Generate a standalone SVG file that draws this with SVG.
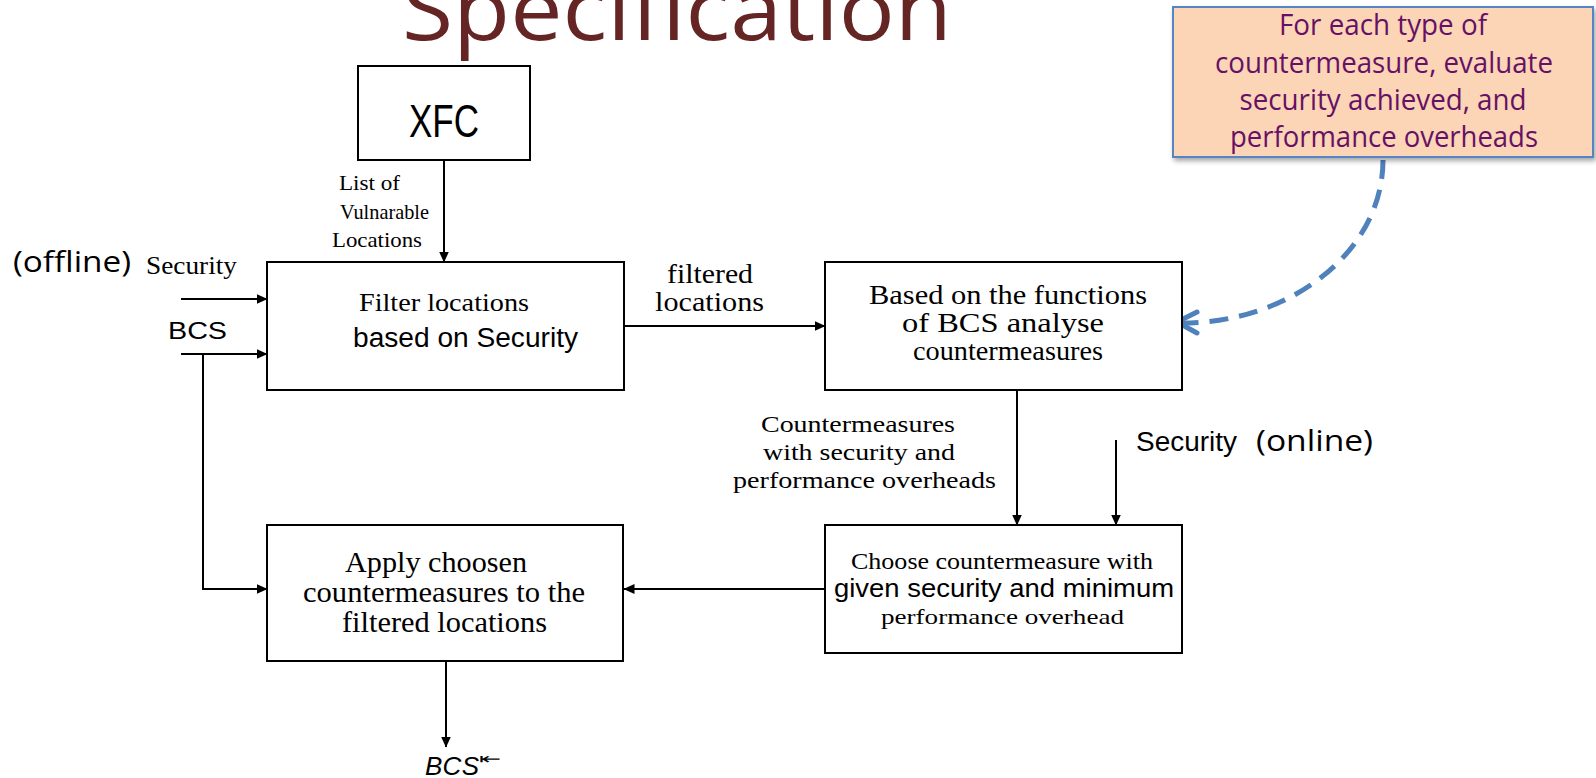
<svg xmlns="http://www.w3.org/2000/svg" width="1596" height="778" viewBox="0 0 1596 778">
  <style>
    .box { fill: #ffffff; stroke: #000000; stroke-width: 2; }
    .wire { fill: none; stroke: #000000; stroke-width: 2; }
    .dash { fill: none; stroke: #4F81BD; stroke-width: 5; }
    .serif { font-family: "Liberation Serif", "Times New Roman", serif; fill: #000000; }
    .narrow { font-family: "Liberation Sans Narrow", "Liberation Sans", Arial, sans-serif; fill: #000000; }
    .soft { font-family: "Open Sans", "Noto Sans", sans-serif; }
    .note { font-family: "Open Sans", "Noto Sans", sans-serif; fill: #661166; font-size: 29px; }
  </style>
  <defs>
    <marker id="tri" markerUnits="userSpaceOnUse" markerWidth="11" markerHeight="10" refX="10.5" refY="5" orient="auto">
      <path d="M0,0 L11,5 L0,10 z" fill="#000000"/>
    </marker>
    <filter id="shade" x="-5%" y="-10%" width="115%" height="130%">
      <feDropShadow dx="2" dy="3" stdDeviation="2.5" flood-color="#000000" flood-opacity="0.35"/>
    </filter>
  </defs>

  <!-- heading, cut off at the top edge -->
  <text x="402" y="40" class="soft" font-size="86" fill="#652525" textLength="550" lengthAdjust="spacingAndGlyphs">Specification</text>

  <!-- connectors -->
  <g id="connectors">
    <line class="wire" x1="444" y1="160" x2="444" y2="262" marker-end="url(#tri)"/>
    <line class="wire" x1="181" y1="299" x2="267" y2="299" marker-end="url(#tri)"/>
    <line class="wire" x1="181" y1="354" x2="267" y2="354" marker-end="url(#tri)"/>
    <polyline class="wire" points="203,354 203,589 267,589" marker-end="url(#tri)"/>
    <line class="wire" x1="624" y1="326" x2="825" y2="326" marker-end="url(#tri)"/>
    <line class="wire" x1="1017" y1="390" x2="1017" y2="525" marker-end="url(#tri)"/>
    <line class="wire" x1="1116" y1="440" x2="1116" y2="525" marker-end="url(#tri)"/>
    <line class="wire" x1="825" y1="589" x2="624" y2="589" marker-end="url(#tri)"/>
    <line class="wire" x1="446" y1="661" x2="446" y2="747" marker-end="url(#tri)"/>
    <!-- dashed link from the note to the analysis box -->
    <path class="dash" d="M1383,160 C1383,252 1290,323 1182,323" stroke-dasharray="19 11"/>
    <polyline class="dash" points="1197,312 1177,322 1197,333" stroke-linecap="round" stroke-linejoin="round"/>
  </g>

  <!-- edge labels and free texts -->
  <g id="labels">
    <text class="serif" font-size="21" x="339" y="190" textLength="61" lengthAdjust="spacingAndGlyphs">List of</text>
    <text class="serif" font-size="21" x="340" y="219" textLength="89" lengthAdjust="spacingAndGlyphs">Vulnarable</text>
    <text class="serif" font-size="21" x="332" y="247" textLength="90" lengthAdjust="spacingAndGlyphs">Locations</text>
    <text class="soft" font-size="30" fill="#000000" x="13" y="272" textLength="118" lengthAdjust="spacingAndGlyphs">(offline)</text>
    <text class="serif" font-size="25" x="146" y="274" textLength="91" lengthAdjust="spacingAndGlyphs">Security</text>
    <text class="narrow" font-size="24" x="168" y="339" textLength="59" lengthAdjust="spacingAndGlyphs">BCS</text>
    <text class="serif" font-size="27" x="667" y="283" textLength="86" lengthAdjust="spacingAndGlyphs">filtered</text>
    <text class="serif" font-size="27" x="655" y="311" textLength="109" lengthAdjust="spacingAndGlyphs">locations</text>
    <text class="serif" font-size="24" x="761" y="432" textLength="194" lengthAdjust="spacingAndGlyphs">Countermeasures</text>
    <text class="serif" font-size="24" x="763" y="460" textLength="192" lengthAdjust="spacingAndGlyphs">with security and</text>
    <text class="serif" font-size="24" x="733" y="488" textLength="263" lengthAdjust="spacingAndGlyphs">performance overheads</text>
    <text class="narrow" font-size="27" x="1136" y="451" textLength="101" lengthAdjust="spacingAndGlyphs">Security</text>
    <text class="soft" font-size="29" fill="#000000" x="1256" y="451" textLength="117" lengthAdjust="spacingAndGlyphs">(online)</text>
    <text font-family="Liberation Sans, Arial, sans-serif" font-style="italic" font-size="26" x="425" y="775" textLength="54" lengthAdjust="spacing">BCS</text>
    <text font-family="DejaVu Sans, sans-serif" font-size="15" x="479" y="764" textLength="22" lengthAdjust="spacingAndGlyphs">⇤</text>
  </g>

  <!-- nodes -->
  <g id="xfc">
    <rect class="box" x="358" y="66" width="172" height="94"/>
    <text class="narrow" font-size="46" x="444" y="137" text-anchor="middle" textLength="70" lengthAdjust="spacingAndGlyphs">XFC</text>
  </g>

  <g id="filter">
    <rect class="box" x="267" y="262" width="357" height="128"/>
    <text class="serif" font-size="25" x="359" y="311" textLength="170" lengthAdjust="spacingAndGlyphs">Filter locations</text>
    <text class="narrow" font-size="27" x="353" y="347" textLength="225" lengthAdjust="spacingAndGlyphs">based on Security</text>
  </g>

  <g id="analyse">
    <rect class="box" x="825" y="262" width="357" height="128"/>
    <text class="serif" font-size="28" x="1008" y="304" text-anchor="middle" textLength="278" lengthAdjust="spacingAndGlyphs">Based on the functions</text>
    <text class="serif" font-size="28" x="1003" y="332" text-anchor="middle" textLength="202" lengthAdjust="spacingAndGlyphs">of BCS analyse</text>
    <text class="serif" font-size="28" x="1008" y="360" text-anchor="middle" textLength="190" lengthAdjust="spacingAndGlyphs">countermeasures</text>
  </g>

  <g id="choose">
    <rect class="box" x="825" y="525" width="357" height="128"/>
    <text class="serif" font-size="23" x="851" y="569" textLength="302" lengthAdjust="spacingAndGlyphs">Choose countermeasure with</text>
    <text class="narrow" font-size="26" x="834" y="597" textLength="340" lengthAdjust="spacingAndGlyphs">given security and minimum</text>
    <text class="serif" font-size="22" x="881" y="624" textLength="243" lengthAdjust="spacingAndGlyphs">performance overhead</text>
  </g>

  <g id="apply">
    <rect class="box" x="267" y="525" width="356" height="136"/>
    <text class="serif" font-size="29" x="345" y="572" textLength="182" lengthAdjust="spacingAndGlyphs">Apply choosen</text>
    <text class="serif" font-size="29" x="303" y="602" textLength="282" lengthAdjust="spacingAndGlyphs">countermeasures to the</text>
    <text class="serif" font-size="29" x="342" y="632" textLength="205" lengthAdjust="spacingAndGlyphs">filtered locations</text>
  </g>

  <g id="callout">
    <rect x="1173" y="7" width="420" height="150" fill="#FBD5B5" stroke="#5585C5" stroke-width="2" filter="url(#shade)"/>
    <text class="note" x="1383" y="35" text-anchor="middle" textLength="208" lengthAdjust="spacingAndGlyphs">For each type of</text>
    <text class="note" x="1384" y="73" text-anchor="middle" textLength="338" lengthAdjust="spacingAndGlyphs">countermeasure, evaluate</text>
    <text class="note" x="1383" y="110" text-anchor="middle" textLength="287" lengthAdjust="spacingAndGlyphs">security achieved, and</text>
    <text class="note" x="1384" y="147" text-anchor="middle" textLength="308" lengthAdjust="spacingAndGlyphs">performance overheads</text>
  </g>
</svg>
